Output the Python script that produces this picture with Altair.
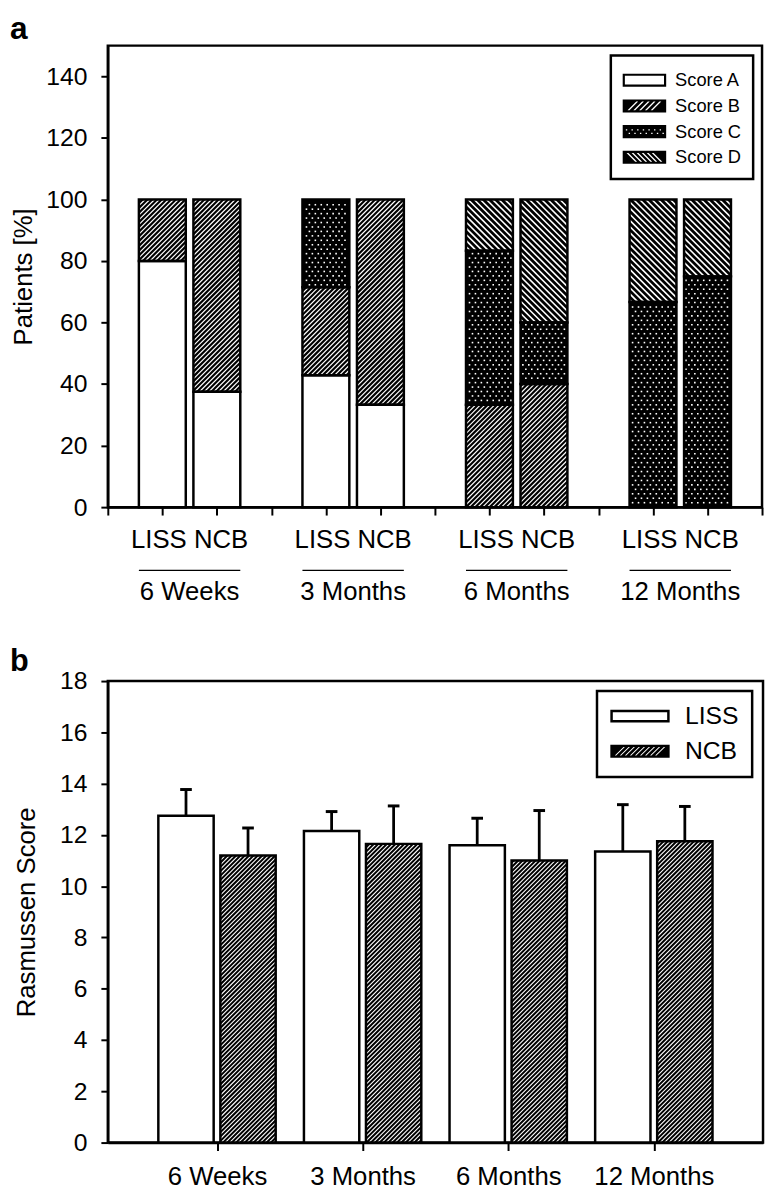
import json
import altair as alt
import pandas as pd

# ------------------------------------------------------------------ data
periods = ["6 Weeks", "3 Months", "6 Months", "12 Months"]
arms = ["LISS", "NCB"]
scores = ["Score A", "Score B", "Score C", "Score D"]

# panel a: patients [%] per score
liss_score_a = [80.0, 42.9, 0.0, 0.0]
liss_score_b = [20.0, 28.6, 33.3, 0.0]
liss_score_c = [0.0, 28.5, 50.0, 66.7]
liss_score_d = [0.0, 0.0, 16.7, 33.3]
ncb_score_a = [37.5, 33.3, 0.0, 0.0]
ncb_score_b = [62.5, 66.7, 40.0, 0.0]
ncb_score_c = [0.0, 0.0, 20.0, 75.0]
ncb_score_d = [0.0, 0.0, 40.0, 25.0]

# panel b: Rasmussen score, mean and SD
liss_mean = [12.75, 12.15, 11.6, 11.35]
liss_sd = [1.02, 0.76, 1.05, 1.83]
ncb_mean = [11.2, 11.65, 11.0, 11.75]
ncb_sd = [1.07, 1.48, 1.95, 1.36]

FONT = "Liberation Sans, Arial, Helvetica, sans-serif"

# ------------------------------------------------------------------ tables
score_table = {
    arms[0]: [liss_score_a, liss_score_b, liss_score_c, liss_score_d],
    arms[1]: [ncb_score_a, ncb_score_b, ncb_score_c, ncb_score_d],
}
rows_a = []
for gi, p in enumerate(periods):
    for ai, arm in enumerate(arms):
        for si, sc in enumerate(scores):
            rows_a.append({"period": p, "gi": gi, "arm": arm, "ai": ai,
                           "score": sc, "si": si, "pct": score_table[arm][si][gi]})
df_a = pd.DataFrame(rows_a)
df_groups = pd.DataFrame({"period": periods, "gi": list(range(len(periods))),
                          "armlabel": [" ".join(arms)] * len(periods)})

rows_b = []
for gi, p in enumerate(periods):
    rows_b.append({"period": p, "gi": gi + 1, "arm": arms[0], "ai": 0,
                   "mean": liss_mean[gi], "sd": liss_sd[gi]})
    rows_b.append({"period": p, "gi": gi + 1, "arm": arms[1], "ai": 1,
                   "mean": ncb_mean[gi], "sd": ncb_sd[gi]})
df_b = pd.DataFrame(rows_b)

# ------------------------------------------------------------------ geometry
WA, HA = 662, 467
XA0, XA1, YA1 = 0, 12, 150
SXA, SYA = WA / (XA1 - XA0), HA / YA1
HWA = 0.43

WB, HB = 663, 467
XB0, XB1, YB1 = 0.25, 4.75, 18
SXB, SYB = WB / (XB1 - XB0), HB / YB1
HWB = 0.19
OFFB = 0.213

xsa = alt.Scale(domain=[XA0, XA1], nice=False, zero=False)
ysa = alt.Scale(domain=[0, YA1], nice=False)
xsb = alt.Scale(domain=[XB0, XB1], nice=False, zero=False)
ysb = alt.Scale(domain=[0, YB1], nice=False)

x_axis_a = alt.Axis(values=list(range(XA0, XA1 + 1)), labels=False, title=None,
                    tickSize=8, grid=False)
y_axis_a = alt.Axis(values=list(range(0, 141, 20)), title="Patients [%]",
                    tickSize=7, labelPadding=14, titlePadding=10, grid=False)
x_axis_b = alt.Axis(values=[1, 2, 3, 4], title=None, tickSize=8, labelPadding=13,
                    labelFontSize=26, labelFlush=False, grid=False,
                    labelExpr=f"{json.dumps(periods)}[datum.value - 1]")
y_axis_b = alt.Axis(values=list(range(0, 19, 2)), title="Rasmussen Score",
                    tickSize=7, labelPadding=14, titlePadding=20, grid=False)


def XA(f):
    return alt.X(f, type="quantitative", scale=xsa, axis=x_axis_a)


def YA(f):
    return alt.Y(f, type="quantitative", scale=ysa, axis=y_axis_a)


def XB(f):
    return alt.X(f, type="quantitative", scale=xsb, axis=x_axis_b)


def YB(f):
    return alt.Y(f, type="quantitative", scale=ysb, axis=y_axis_b)


def hatch(base, sel, K, sx, sy, x0, direction, X, Y, width):
    """White hatch lines clipped to each segment (pixel-space 45 degree lines)."""
    if direction == "/":
        seq = f"sequence(ceil((datum.va - datum.ub) / {K}), floor((datum.vb - datum.ua) / {K}) + 1)"
        us = "max(datum.ua, datum.va - datum.k)"
        ue = "min(datum.ub, datum.vb - datum.k)"
        hy = f"(datum.us + datum.k) / {sy}"
        hy2 = f"(datum.ue + datum.k) / {sy}"
    else:
        seq = f"sequence(ceil((datum.ua + datum.va) / {K}), floor((datum.ub + datum.vb) / {K}) + 1)"
        us = "max(datum.ua, datum.k - datum.vb)"
        ue = "min(datum.ub, datum.k - datum.va)"
        hy = f"(datum.k - datum.us) / {sy}"
        hy2 = f"(datum.k - datum.ue) / {sy}"
    return (base.transform_filter(sel)
            .transform_calculate(j=seq)
            .transform_flatten(["j"])
            .transform_calculate(k=f"datum.j * {K}")
            .transform_calculate(us=us, ue=ue)
            .transform_filter("datum.ue - datum.us > 0.2")
            .transform_calculate(hx=f"datum.us / {sx} + {x0}", hx2=f"datum.ue / {sx} + {x0}",
                                 hy=hy, hy2=hy2)
            .mark_rule(color="white", strokeWidth=width)
            .encode(x=X("hx"), x2="hx2:Q", y=Y("hy"), y2="hy2:Q"))


def dots(base, sel, RS, CS, sx, sy, X, Y):
    return (base.transform_filter(sel)
            .transform_calculate(r=f"sequence(ceil(datum.va / {RS}), floor(datum.vb / {RS}) + 1)")
            .transform_flatten(["r"])
            .transform_calculate(v=f"datum.r * {RS}")
            .transform_filter("datum.v > datum.va + 1.8 && datum.v < datum.vb - 1.8")
            .transform_calculate(c=f"sequence(floor(datum.ua / {CS}) - 1, ceil(datum.ub / {CS}) + 2)")
            .transform_flatten(["c"])
            .transform_calculate(u=f"datum.c * {CS} + (datum.r % 2) * {CS / 2}")
            .transform_filter("datum.u > datum.ua + 1.8 && datum.u < datum.ub - 1.8")
            .transform_calculate(px=f"datum.u / {sx}", py=f"datum.v / {sy}")
            .mark_square(size=2.6, color="white", opacity=1, strokeWidth=0)
            .encode(x=X("px"), y=Y("py")))


# ------------------------------------------------------------------ legend symbols
# (pixel geometry, expressed in units of the symbol radius r; holes have opposite winding)
def f_(v, r):
    return f"{v / r:.4f}"


def rect_cw(x0, y0, x1, y1, r):
    return f"M{f_(x0, r)},{f_(y0, r)}H{f_(x1, r)}V{f_(y1, r)}H{f_(x0, r)}Z"


def rect_ccw(x0, y0, x1, y1, r):
    return f"M{f_(x0, r)},{f_(y0, r)}V{f_(y1, r)}H{f_(x1, r)}V{f_(y0, r)}Z"


def stripes(xi, yi, period, w, direction, r):
    h = 2 * yi
    lo, hi = -xi, xi - h - w
    n = int((hi - lo) // period) + 1
    start = lo + ((hi - lo) - (n - 1) * period) / 2
    out = ""
    for i in range(n):
        x0 = start + i * period
        if direction == "/":
            pts = [(x0, yi), (x0 + w, yi), (x0 + w + h, -yi), (x0 + h, -yi)]
        else:
            pts = [(x0 + h, yi), (x0 + h + w, yi), (x0 + w, -yi), (x0, -yi)]
        out += "M" + "L".join(f"{f_(px, r)},{f_(py, r)}" for px, py in pts) + "Z"
    return out


def dot_holes(xi, rows, period, s, r):
    out = ""
    for ri, yc in enumerate(rows):
        x = -xi + 1.0 + (ri % 2) * period / 2
        while x + s < xi:
            out += rect_ccw(x, yc - s / 2, x + s, yc + s / 2, r)
            x += period
    return out


# legend a: swatches 44 x 13.2 px, symbol "diameter" 26 px
DA = 26
RA = DA / 2
swa_w, swa_h, swa_b = 22.0, 6.6, 2.2
outer_a = rect_cw(-swa_w, -swa_h, swa_w, swa_h, RA)
paths_a = [
    outer_a + rect_ccw(-swa_w + swa_b, -swa_h + swa_b, swa_w - swa_b, swa_h - swa_b, RA),
    outer_a + stripes(swa_w - swa_b, swa_h - swa_b, 5.85, 1.9, "/", RA),
    outer_a + dot_holes(swa_w - swa_b, [-1.8, 1.8], 5.7, 1.4, RA),
    outer_a + stripes(swa_w - swa_b, swa_h - swa_b, 5.1, 1.9, "\\", RA),
]
# legend b: swatches 60 x 13 px, symbol "diameter" 24 px
DB = 24
RB = DB / 2
swb_w, swb_h, swb_b = 30.0, 6.5, 2.5
outer_b = rect_cw(-swb_w, -swb_h, swb_w, swb_h, RB)
paths_b = [
    outer_b + rect_ccw(-swb_w + swb_b, -swb_h + swb_b, swb_w - swb_b, swb_h - swb_b, RB),
    outer_b + stripes(swb_w - swb_b, swb_h - 2.1, 5.1, 1.35, "/", RB),
]

# ------------------------------------------------------------------ panel a
base_a = (alt.Chart(df_a)
          .transform_stack(stack="pct", groupby=["period", "arm"], as_=["lo", "hi"],
                           sort=[alt.SortField("si", order="ascending")])
          .transform_filter("datum.pct > 0")
          .transform_calculate(xc="3 * datum.gi + 1 + datum.ai")
          .transform_calculate(xl=f"datum.xc - {HWA}", xr=f"datum.xc + {HWA}")
          .transform_calculate(ua=f"datum.xl * {SXA}", ub=f"datum.xr * {SXA}",
                               va=f"datum.lo * {SYA}", vb=f"datum.hi * {SYA}"))

fill_a = base_a.mark_rect(strokeWidth=0).encode(
    x=XA("xl"), x2="xr:Q", y=YA("lo"), y2="hi:Q",
    fill=alt.condition(f"datum.score == '{scores[0]}'", alt.value("white"), alt.value("black")))
hatch_b_a = hatch(base_a, f"datum.score == '{scores[1]}'", 4.8, SXA, SYA, 0, "/", XA, YA, 1.2)
hatch_d_a = hatch(base_a, f"datum.score == '{scores[3]}'", 6.2, SXA, SYA, 0, "\\", XA, YA, 1.6)
dots_c_a = dots(base_a, f"datum.score == '{scores[2]}'", 4.5, 6.0, SXA, SYA, XA, YA)
outline_a = base_a.mark_rect(fill="white", fillOpacity=0, stroke="black", strokeWidth=2.5).encode(
    x=XA("xl"), x2="xr:Q", y=YA("lo"), y2="hi:Q")

grp = alt.Chart(df_groups)
underline_a = (grp.transform_calculate(u1=f"3 * datum.gi + 1 - {HWA}", u2=f"3 * datum.gi + 2 + {HWA}")
               .mark_rule(color="black", strokeWidth=1.3)
               .encode(x=XA("u1"), x2="u2:Q", y=alt.value(HA + 64)))
armlab_a = (grp.transform_calculate(xm="3 * datum.gi + 1.5")
            .mark_text(font=FONT, fontSize=26, baseline="alphabetic", color="black")
            .encode(x=XA("xm"), y=alt.value(HA + 41), text="armlabel:N"))
perlab_a = (grp.transform_calculate(xm="3 * datum.gi + 1.5")
            .mark_text(font=FONT, fontSize=26, baseline="alphabetic", color="black")
            .encode(x=XA("xm"), y=alt.value(HA + 94), text="period:N"))
tag_a = (alt.Chart(pd.DataFrame({"t": ["a"]}))
         .mark_text(font=FONT, fontSize=32, fontWeight="bold", align="left",
                    baseline="alphabetic", color="black")
         .encode(x=alt.value(-99), y=alt.value(-7), text="t:N"))
legend_a = (alt.Chart(pd.DataFrame({"score": scores}))
            .mark_point(filled=True, color="black", opacity=0, strokeWidth=0)
            .encode(x=alt.value(WA - 60), y=alt.value(40),
                    shape=alt.Shape("score:N", scale=alt.Scale(domain=scores, range=paths_a),
                                    legend=alt.Legend(title=None, orient="none", legendX=509, legendY=10,
                                                      symbolSize=DA * DA, symbolStrokeWidth=0,
                                                      symbolFillColor="black", symbolOpacity=1,
                                                      symbolOffset=swa_w - RA,
                                                      labelFont=FONT, labelFontSize=18.5,
                                                      labelColor="black",
                                                      labelOffset=swa_w + 9 - RA,
                                                      rowPadding=3, padding=12,
                                                      strokeColor="black", fillColor="white"))))

chart_a = alt.layer(fill_a, hatch_b_a, hatch_d_a, dots_c_a, outline_a, underline_a,
                    armlab_a, perlab_a, tag_a, legend_a).properties(width=WA, height=HA)

# ------------------------------------------------------------------ panel b
base_b = (alt.Chart(df_b)
          .transform_calculate(xc=f"datum.gi + (datum.ai == 0 ? -{OFFB} : {OFFB})",
                               top="datum.mean + datum.sd", base0="0")
          .transform_calculate(xl=f"datum.xc - {HWB}", xr=f"datum.xc + {HWB}")
          .transform_calculate(ua=f"(datum.xl - {XB0}) * {SXB}", ub=f"(datum.xr - {XB0}) * {SXB}",
                               va="0", vb=f"datum.mean * {SYB}"))

fill_b = base_b.mark_rect(strokeWidth=0).encode(
    x=XB("xl"), x2="xr:Q", y=YB("base0"), y2="mean:Q",
    fill=alt.condition(f"datum.arm == '{arms[0]}'", alt.value("white"), alt.value("black")))
hatch_b = hatch(base_b, f"datum.arm == '{arms[1]}'", 4.4, SXB, SYB, XB0, "/", XB, YB, 1.1)
outline_b = base_b.mark_rect(fill="white", fillOpacity=0, stroke="black", strokeWidth=2.5).encode(
    x=XB("xl"), x2="xr:Q", y=YB("base0"), y2="mean:Q")
err_b = base_b.mark_rule(color="black", strokeWidth=2.8).encode(
    x=XB("xc"), y=YB("mean"), y2="top:Q")
cap_b = (base_b.transform_calculate(c1="datum.xc - 0.04", c2="datum.xc + 0.04")
         .mark_rule(color="black", strokeWidth=3)
         .encode(x=XB("c1"), x2="c2:Q", y=YB("top")))
tag_b = (alt.Chart(pd.DataFrame({"t": ["b"]}))
         .mark_text(font=FONT, fontSize=31, fontWeight="bold", align="left",
                    baseline="alphabetic", color="black")
         .encode(x=alt.value(-99), y=alt.value(-10), text="t:N"))
legend_b = (alt.Chart(pd.DataFrame({"arm": arms}))
            .mark_point(filled=True, color="black", opacity=0, strokeWidth=0)
            .encode(x=alt.value(WB - 60), y=alt.value(40),
                    shape=alt.Shape("arm:N", scale=alt.Scale(domain=arms, range=paths_b),
                                    legend=alt.Legend(title=None, orient="none", legendX=495, legendY=10,
                                                      symbolSize=DB * DB, symbolStrokeWidth=0,
                                                      symbolFillColor="black", symbolOpacity=1,
                                                      symbolOffset=swb_w - RB,
                                                      labelFont=FONT, labelFontSize=25,
                                                      labelColor="black",
                                                      labelOffset=swb_w + 15 - RB,
                                                      rowPadding=9.5, padding=13,
                                                      strokeColor="black", fillColor="white"))))

chart_b = alt.layer(fill_b, hatch_b, outline_b, err_b, cap_b, tag_b, legend_b).properties(width=WB, height=HB)

# ------------------------------------------------------------------ compose
legend_cfg = {}
try:
    alt.LegendConfig(strokeWidth=2.5).to_dict()
    legend_cfg = {"strokeWidth": 2.5}
except Exception:
    legend_cfg = {}

chart = (alt.vconcat(chart_a, chart_b, spacing=38,
                     padding={"top": -4, "left": 0, "right": 0, "bottom": 0})
         .resolve_scale(shape="independent")
         .resolve_legend(shape="independent")
         .configure_view(stroke="black", strokeWidth=2.5)
         .configure_axis(domainColor="black", domainWidth=2.5, tickColor="black", tickWidth=2,
                         labelColor="black", labelFont=FONT, labelFontSize=25,
                         titleFont=FONT, titleFontSize=26, titleFontWeight="normal",
                         titleColor="black", grid=False)
         .configure_legend(**legend_cfg)
         .configure_text(font=FONT))

chart.save("out.html", embed_options={"renderer": "svg", "actions": False})
